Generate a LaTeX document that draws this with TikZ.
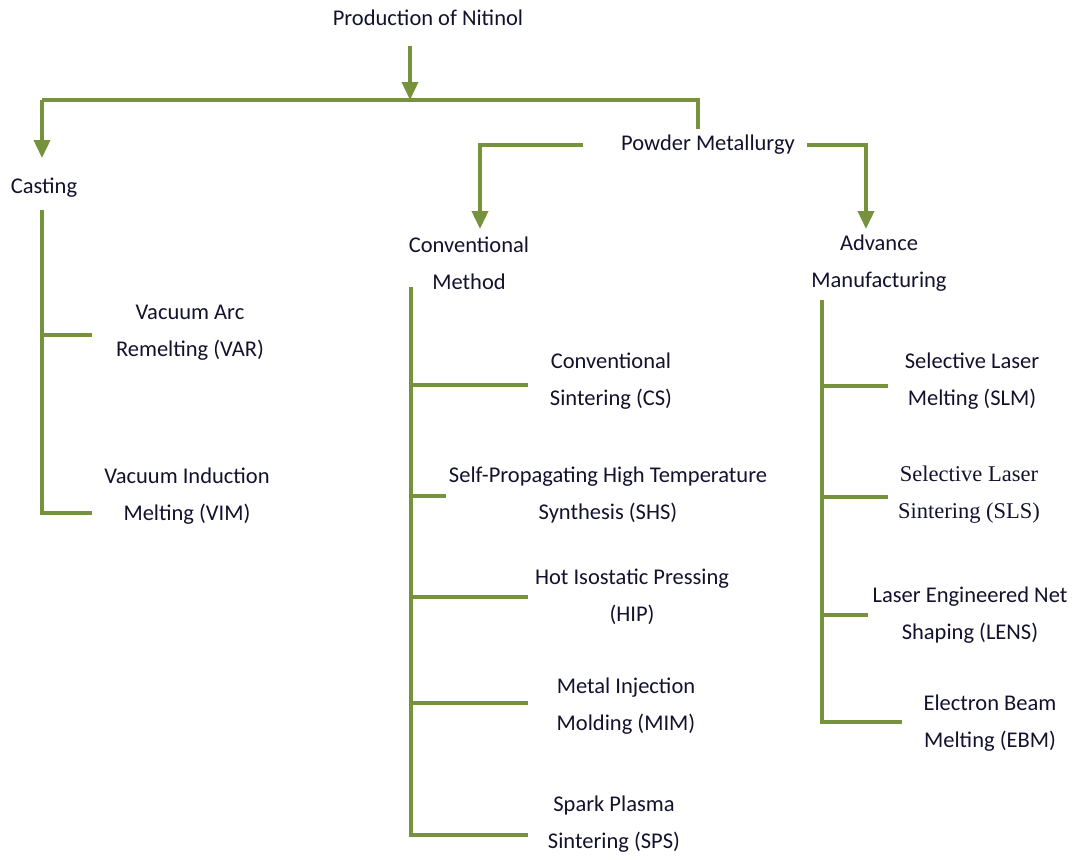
\documentclass[tikz,border=0pt]{standalone}
\usepackage{fontspec}
\setmainfont{Carlito}
\newfontfamily\slsfont{Liberation Serif}
\usetikzlibrary{positioning}
\usetikzlibrary{calc}
\usetikzlibrary{arrows.meta}
\definecolor{olive}{RGB}{118,146,60}
\definecolor{ink}{RGB}{18,18,45}

\tikzset{
  lbl/.style={text=ink, align=center, inner sep=3pt, font=\fontsize{11.25}{18.5}\selectfont},
  stem/.style={draw=olive, line width=1.8pt},
  arrow/.style={stem, -{Triangle[width=8pt,length=9pt]}},
}

\begin{document}
\begin{tikzpicture}[x=0.5pt, y=-0.5pt]
        \useasboundingbox (0,0) rectangle (1086,859);
        % nodes %
        \node[lbl] (prod) at (428,18) {Production of Nitinol};
        \node[lbl] (cast) at (44,188) {Casting};
        \node[lbl] (pm) at (708,145) {Powder Metallurgy};
        \node[lbl] (conv) at (469,263) {Conventional\\Method};
        \node[lbl] (adv) at (879,263) {Advance\\Manufacturing};

        \node[lbl] (var) at (190,333) {Vacuum Arc\\Remelting (VAR)};
        \node[lbl] (vim) at (187,496) {Vacuum Induction\\Melting (VIM)};

        \node[lbl] (cs) at (611,381) {Conventional\\Sintering (CS)};
        \node[lbl] (shs) at (608,495) {Self-Propagating High Temperature\\Synthesis (SHS)};
        \node[lbl] (hip) at (632,597) {Hot Isostatic Pressing\\(HIP)};
        \node[lbl] (mim) at (626,706) {Metal Injection\\Molding (MIM)};
        \node[lbl] (sps) at (614,824) {Spark Plasma\\Sintering (SPS)};

        \node[lbl] (slm) at (972,381) {Selective Laser\\Melting (SLM)};
        \node[lbl, font=\slsfont\fontsize{11.25}{18.5}\selectfont] (sls) at (969,495) {Selective Laser\\Sintering (SLS)};
        \node[lbl] (lens) at (970,615) {Laser Engineered Net\\Shaping (LENS)};
        \node[lbl] (ebm) at (990,723) {Electron Beam\\Melting (EBM)};

        % junctions %
        \coordinate (bar-l) at (42,100);
        \coordinate (bar-m) at (410,100);
        \coordinate (bar-r) at (698,100);
        \coordinate (cast-in) at (42,158);
        \coordinate (conv-in) at (480,229);
        \coordinate (adv-in) at (866,229);

        \coordinate (cast-top) at (42,210);
        \coordinate (var-in) at (92,335);
        \coordinate (vim-in) at (92,513);

        \coordinate (conv-top) at (411,287);
        \coordinate (cs-in) at (528,385);
        \coordinate (shs-in) at (446,496);
        \coordinate (hip-in) at (528,597);
        \coordinate (mim-in) at (528,703);
        \coordinate (sps-in) at (528,835);

        \coordinate (adv-top) at (822,300);
        \coordinate (slm-in) at (888,386);
        \coordinate (sls-in) at (888,497);
        \coordinate (lens-in) at (868,615);
        \coordinate (ebm-in) at (902,722);

        % edges %
        \draw[arrow, shorten <=7pt] (prod.south -| bar-m) -- (bar-m);
        \draw[stem] (bar-l) -- (bar-r) -- (bar-r |- pm.north);
        \draw[arrow] (bar-l) -- (cast-in);
        \draw[arrow, shorten <=16pt] (pm.west) -| (conv-in);
        \draw[arrow, shorten <=3pt] (pm.east) -| (adv-in);

        % casting %
        \draw[stem] (cast-top) |- (vim-in);
        \draw[stem] (var-in -| cast-top) -- (var-in);

        % conventional method %
        \draw[stem] (conv-top) |- (sps-in);
        \draw[stem] (cs-in -| conv-top) -- (cs-in);
        \draw[stem] (shs-in -| conv-top) -- (shs-in);
        \draw[stem] (hip-in -| conv-top) -- (hip-in);
        \draw[stem] (mim-in -| conv-top) -- (mim-in);

        % advance manufacturing %
        \draw[stem] (adv-top) |- (ebm-in);
        \draw[stem] (slm-in -| adv-top) -- (slm-in);
        \draw[stem] (sls-in -| adv-top) -- (sls-in);
        \draw[stem] (lens-in -| adv-top) -- (lens-in);
      \end{tikzpicture}
\end{document}
